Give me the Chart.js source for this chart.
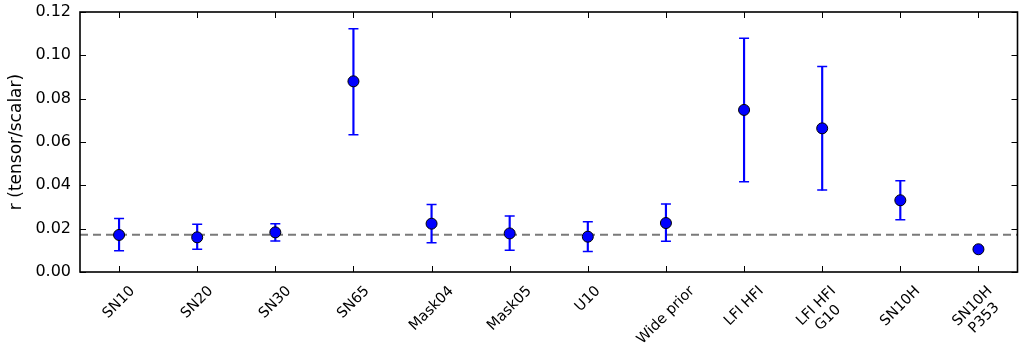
<!DOCTYPE html>
<html><head><meta charset="utf-8">
<script src="https://cdn.jsdelivr.net/npm/chart.js@4"></script>
<style>html,body{margin:0;padding:0;background:#fff}#wrap{width:1024px;height:351px}</style>
</head><body><div id="wrap"><canvas id="c" width="1024" height="351"></canvas></div>
<script>
const categories = ['SN10','SN20','SN30','SN65','Mask04','Mask05','U10','Wide prior','LFI HFI',['LFI HFI','G10'],'SN10H',['SN10H','P353']];
const rValues  = [0.0171,0.0160,0.0183,0.0880,0.0223,0.0178,0.0163,0.0226,0.0748,0.0663,0.0331,0.0105];
const rLow     = [0.0098,0.0105,0.0143,0.0634,0.0135,0.0100,0.0095,0.0142,0.0417,0.0378,0.0241,0.0097];
const rHigh    = [0.0247,0.0220,0.0223,0.1123,0.0312,0.0258,0.0232,0.0314,0.1079,0.0948,0.0421,0.0113];
const yTicks   = [0.00,0.02,0.04,0.06,0.08,0.10,0.12];
const refLine  = 0.0172;

const BLUE = '#0000ff';
const FONT = 'DejaVu Sans';
const XFONT = 14.5;

const framePlugin = {
  id:'frame',
  beforeDatasetsDraw(chart){
    const {ctx, chartArea:a, scales:{y}} = chart;
    const py = y.getPixelForValue(refLine);
    ctx.save();
    ctx.strokeStyle = '#7a7a7a'; ctx.lineWidth = 1.8; ctx.setLineDash([8,5]);
    ctx.beginPath(); ctx.moveTo(a.left, py); ctx.lineTo(a.right, py); ctx.stroke();
    ctx.restore();
  },
  afterDraw(chart){
    const {ctx, chartArea:a, scales:{x,y}} = chart;
    ctx.save();
    ctx.strokeStyle = '#000'; ctx.lineWidth = 1;
    ctx.beginPath();
    y.ticks.forEach((t,i)=>{ const p = Math.round(y.getPixelForTick(i))+0.5;
      ctx.moveTo(a.left,p); ctx.lineTo(a.left+6,p); ctx.moveTo(a.right,p); ctx.lineTo(a.right-6,p); });
    x.ticks.forEach((t,i)=>{ const p = Math.round(x.getPixelForTick(i))+0.5;
      ctx.moveTo(p,a.bottom); ctx.lineTo(p,a.bottom-6); ctx.moveTo(p,a.top); ctx.lineTo(p,a.top+6); });
    ctx.stroke();
    ctx.lineWidth = 1.6;
    ctx.strokeRect(a.left, a.top, a.right-a.left, a.bottom-a.top);
    // x tick labels, rotated 45deg, bbox centred on tick (matplotlib style)
    ctx.fillStyle = '#000';
    ctx.font = XFONT + 'px "' + FONT + '"';
    ctx.textAlign = 'center'; ctx.textBaseline = 'middle';
    const lh = XFONT * 1.15;
    const c = Math.SQRT1_2;
    categories.forEach((lab,i)=>{
      const lines = Array.isArray(lab) ? lab : [lab];
      const W = Math.max(...lines.map(l=>ctx.measureText(l).width));
      const H = lines.length * lh;
      const bh = (W + H) * c;
      const cx = x.getPixelForTick(i);
      const cy = a.bottom + 11 + bh/2;
      ctx.save();
      ctx.translate(cx, cy);
      ctx.rotate(-Math.PI/4);
      lines.forEach((l,k)=>ctx.fillText(l, 0, (k - (lines.length-1)/2) * lh));
      ctx.restore();
    });
    ctx.restore();
  }
};

new Chart(document.getElementById('c'), {
  data:{
    labels: categories,
    datasets:[
      {type:'line', data:rValues, showLine:false, pointRadius:5.5, pointHoverRadius:5.5,
       pointBackgroundColor:BLUE, pointBorderColor:'#000', pointBorderWidth:1, order:0},
      {type:'line', data:rHigh, showLine:false, pointStyle:'line', pointRadius:5, pointHoverRadius:5,
       pointBorderColor:BLUE, pointBorderWidth:1.5, order:1},
      {type:'line', data:rLow, showLine:false, pointStyle:'line', pointRadius:5, pointHoverRadius:5,
       pointBorderColor:BLUE, pointBorderWidth:1.5, order:1},
      {type:'bar', data:rLow.map((l,i)=>[l,rHigh[i]]), backgroundColor:BLUE, barThickness:1.5, order:2}
    ]
  },
  options:{
    responsive:false, animation:false,
    layout:{padding:{top:12,right:6,left:0,bottom:0}},
    plugins:{legend:{display:false}, tooltip:{enabled:false}},
    scales:{
      x:{offset:true, grid:{display:false, drawTicks:false}, border:{display:false},
         ticks:{display:false, minRotation:45, maxRotation:45},
         afterFit(s){ s.height = 79; s.paddingLeft = 0; s.paddingRight = 0; }},
      y:{min:0, max:0.12, grid:{display:false, drawTicks:false}, border:{display:false},
         afterBuildTicks(s){ s.ticks = yTicks.map(v=>({value:v})); },
         ticks:{color:'#000', font:{family:FONT,size:16}, padding:9, callback:v=>v.toFixed(2)},
         title:{display:true, text:'r (tensor/scalar)', color:'#000', font:{family:FONT,size:17}, padding:{top:6,bottom:4}},
         afterFit(s){ s.width = 80; s.paddingTop = 0; s.paddingBottom = 0; }}
    }
  },
  plugins:[framePlugin]
});
</script></body></html>
